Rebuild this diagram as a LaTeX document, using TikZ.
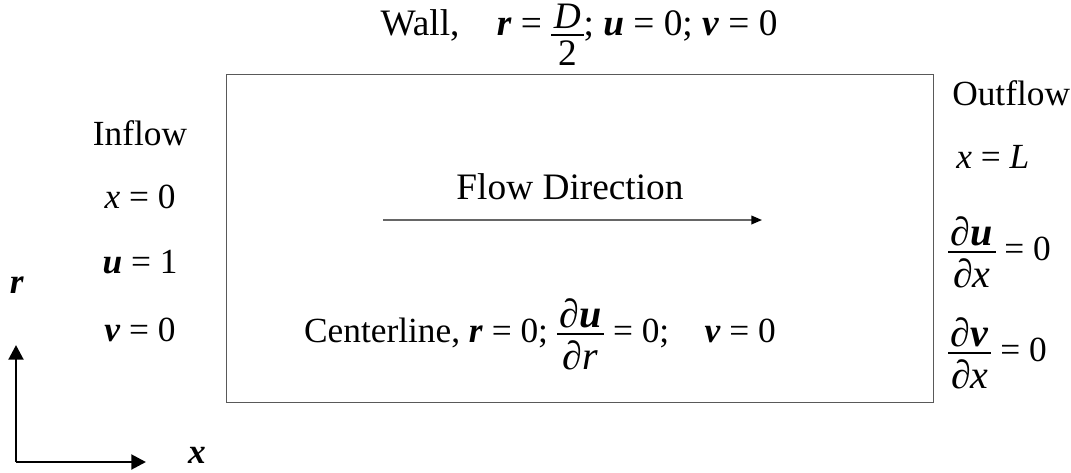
\documentclass[tikz,border=0pt]{standalone}
\usepackage{fontspec}
\setmainfont{Liberation Serif}
\usetikzlibrary{arrows.meta}
\newcommand\vi[1]{\textit{#1}}
\newcommand\vb[1]{\textbf{\textit{#1}}}
\newcommand\fbig{\fontsize{30}{36}\selectfont}
\newcommand\stk[2]{$\vcenter{\offinterlineskip\halign{\hfil\kern2pt##\kern2pt\hfil\cr #1\cr\noalign{\kern4pt\hrule height 1.4pt\kern4pt}#2\cr}}$}
\newcommand\pdr[2]{\stk{\fbig∂\vb{#1}}{\fbig∂\vi{#2}}}
\begin{document}
\begin{tikzpicture}[x=0.75pt,y=-0.75pt,
  lbl/.style={inner sep=0pt, font=\fontsize{26.5}{32}\selectfont},
  domainbox/.style={draw=black!65, line width=1.3pt},
  axisarrow/.style={line width=2.2pt, -{Triangle[length=11pt,width=11pt]}},
  flowarrow/.style={draw=black!60, line width=1.2pt, -{Triangle[length=8pt,width=6.5pt,fill=black,color=black]}}]
\useasboundingbox (0,0) rectangle (1071,472);
% domain box
\node[domainbox, minimum width=707*0.75pt, minimum height=328*0.75pt, inner sep=0pt] (box) at (580,238.5) {};
% top
\node[lbl, font=\fontsize{28}{34}\selectfont, anchor=base] (wall) at (579,35) {Wall,\quad \vb{r} = \raisebox{-6pt}{\stk{\vi{D}}{2}}; \vb{u} = 0; \vb{v} = 0};
% inflow
\node[lbl] (inflow) at (140,133) {Inflow};
\node[lbl] (inx) at (140,197) {\vi{x} = 0};
\node[lbl] (inu) at (140,262) {\vb{u} = 1};
\node[lbl] (inv) at (140,330) {\vb{v} = 0};
% outflow
\node[lbl, anchor=west] (outflow) at (952,93) {Outflow};
\node[lbl, anchor=west] (outx) at (956,157) {\vi{x} = \vi{L}};
\node[lbl, anchor=west] (outu) at (948,252) {\pdr{u}{x} = 0};
\node[lbl, anchor=west] (outv) at (948,353) {\pdr{v}{x} = 0};
% centre
\node[lbl, font=\fontsize{28}{34}\selectfont] (flowtxt) at (570,187) {Flow Direction};
\coordinate (fs) at (383,220);
\coordinate (fe) at (762,220);
\draw[flowarrow] (fs) -- (fe);
\node[lbl] (center) at (540,334) {Centerline, \vb{r} = 0; \pdr{u}{r} = 0;\quad \vb{v} = 0};
% axes
\coordinate (o) at (16,462);
\coordinate (rt) at (16,345);
\coordinate (xt) at (146,462);
\draw[axisarrow] (o) -- (rt);
\draw[axisarrow] (o) -- (xt);
\node[lbl] (rlab) at (17,285) {\vb{r}};
\node[lbl] (xlab) at (197,455) {\vb{x}};
\end{tikzpicture}
\end{document}
